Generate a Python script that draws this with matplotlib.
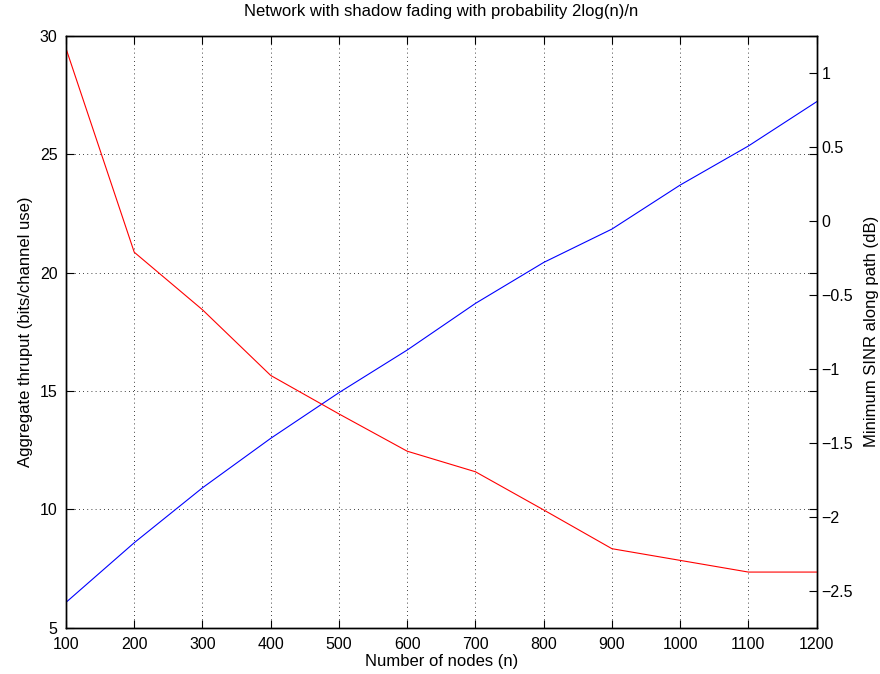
import matplotlib.pyplot as plt

plt.rcParams['font.family'] = ['Liberation Sans', 'DejaVu Sans']

nodes = [100, 200, 300, 400, 500, 600, 700, 800, 900, 1000, 1100, 1200]
thruput = [6.07, 8.59, 10.91, 13.00, 14.93, 16.73, 18.70, 20.43, 21.84, 23.70, 25.35, 27.22]
min_sinr = [1.165, -0.212, -0.601, -1.045, -1.305, -1.557, -1.696, -1.954,
            -2.216, -2.295, -2.374, -2.374]

left_ticks = [5, 10, 15, 20, 25, 30]
right_ticks = [-2.5, -2, -1.5, -1, -0.5, 0, 0.5, 1]
right_labels = ['\u22122.5', '\u22122', '\u22121.5', '\u22121', '\u22120.5', '0', '0.5', '1']

fig = plt.figure(figsize=(8.8, 6.74), dpi=100)
ax1 = fig.add_axes([0.075, 0.0687, 0.853, 0.878])
ax2 = ax1.twinx()

ax1.plot(nodes, thruput, color='b', lw=0.8)
ax2.plot(nodes, min_sinr, color='r', lw=0.8)

ax1.set_xlim(100, 1200)
ax1.set_ylim(5, 30)
ax2.set_ylim(-2.75, 1.25)
ax1.set_xticks(nodes)
ax1.set_yticks(left_ticks)
ax2.set_yticks(right_ticks)
ax2.set_yticklabels(right_labels)

ax1.grid(True, color='k', linestyle=(0, (1, 4)), lw=0.6)
ax1.tick_params(direction='in', length=5.5, width=0.8, labelsize=11.5,
                top=True, right=True, labelright=False)
ax1.tick_params(axis='x', pad=7)
ax1.tick_params(axis='y', pad=6)
ax2.tick_params(direction='in', length=5.5, width=0.8, labelsize=11.5)
for ax in (ax1, ax2):
    for s in ax.spines.values():
        s.set_linewidth(1.0)

ax1.set_xlabel('Number of nodes (n)', fontsize=12, labelpad=1)
ax1.set_ylabel('Aggregate thruput (bits/channel use)', fontsize=12, labelpad=5)
ax2.set_ylabel('Minimum SINR along path (dB)', fontsize=12, labelpad=8)
ax1.set_title('Network with shadow fading with probability 2log(n)/n', fontsize=12, pad=14)

fig.savefig('out.png', dpi=100)
